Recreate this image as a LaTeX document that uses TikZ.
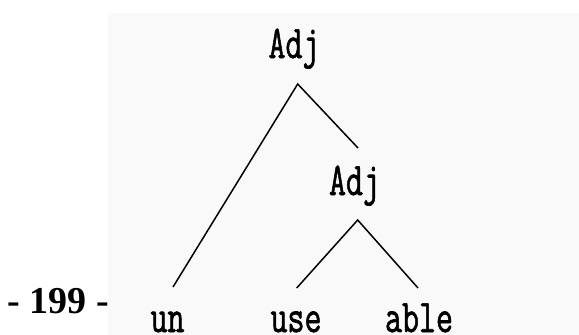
\documentclass[tikz,border=0pt]{standalone}
\usepackage{fontspec}
\setmainfont{Liberation Serif}
\newfontfamily\treefont[FakeBold=1.5]{Latin Modern Mono}
\usepackage{graphicx}
\definecolor{bggray}{RGB}{249,249,249}
\tikzset{
  word/.style={inner sep=0pt, anchor=base, text depth=0pt, font=\fontsize{33}{33}\selectfont\treefont},
  branch/.style={line width=1.5pt, black},
}
\newcommand{\talltext}[1]{\scalebox{1}[1.42]{#1}}
\begin{document}
\begin{tikzpicture}[x=1pt,y=-1pt]
\useasboundingbox (0,0) rectangle (579,335);
\fill[bggray] (108,13) rectangle (579,335);
\node[anchor=base, inner sep=0pt, font=\fontsize{38}{38}\selectfont\bfseries] (page) at (58.5,313) {- 199 -};
\node[word] (adj1) at (294,58) {\talltext{Adj}};
\node[word] (adj2) at (354.5,195) {\talltext{Adj}};
\node[word] (un) at (167.5,332) {\talltext{un}};
\node[word] (use) at (296,332) {\talltext{use}};
\node[word] (able) at (419,332) {\talltext{able}};
\coordinate (v1) at (297.7,84);
\coordinate (v2) at (357.7,220);
\coordinate (unTop) at (173,287);
\coordinate (adjTop) at (358,148);
\coordinate (useTop) at (296.7,288);
\coordinate (ableTop) at (418,288);
\draw[branch] (unTop) -- (v1) -- (adjTop);
\draw[branch] (useTop) -- (v2) -- (ableTop);
\end{tikzpicture}
\end{document}
